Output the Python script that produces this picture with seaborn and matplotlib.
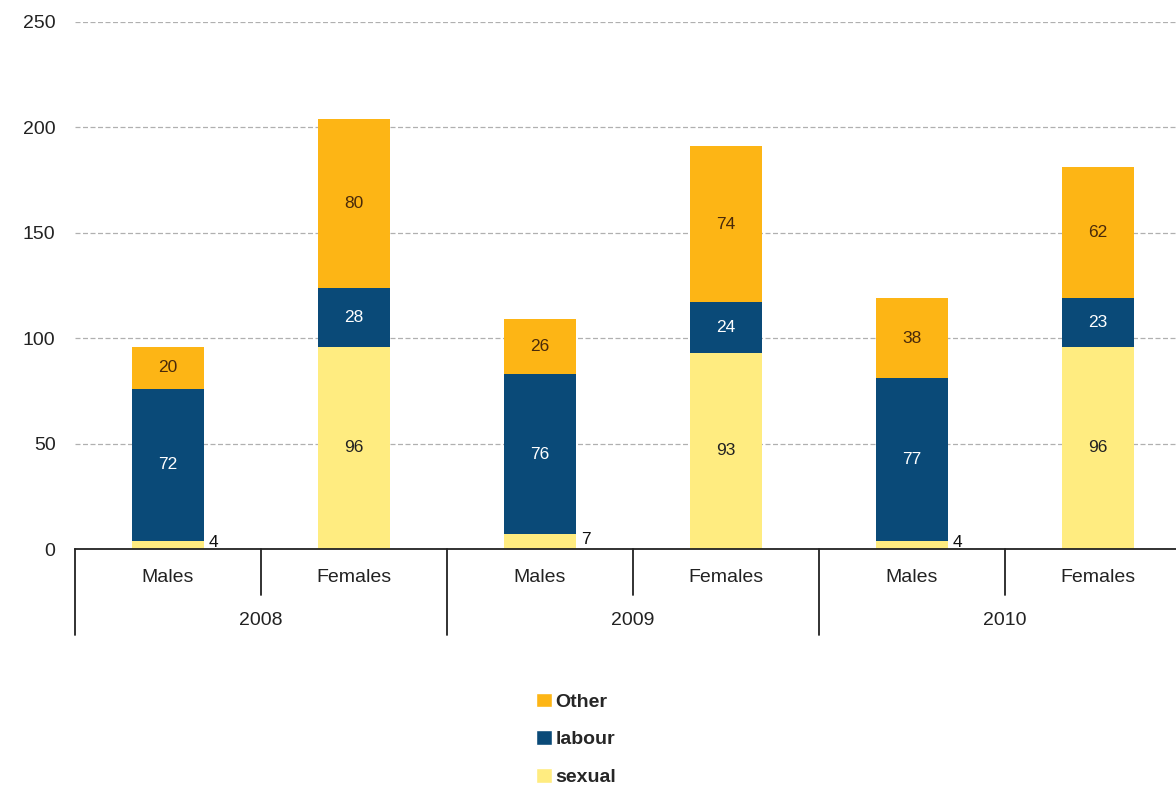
import pandas as pd
import seaborn as sns
import matplotlib.pyplot as plt
from matplotlib.patches import Patch
import matplotlib.transforms as mtransforms

years = ["2008", "2009", "2010"]
sexes = ["Males", "Females"]
groups = ["Males 2008", "Females 2008", "Males 2009", "Females 2009", "Males 2010", "Females 2010"]
sexual = [4, 96, 7, 93, 4, 96]
labour = [72, 28, 76, 24, 77, 23]
other = [20, 80, 26, 74, 38, 62]

df = pd.DataFrame({"group": groups, "sexual": sexual, "labour": labour, "other": other})
df["base_other"] = df["sexual"] + df["labour"]

c_other = "#FDB515"
c_labour = "#0A4A78"
c_sexual = "#FFEC80"

sns.set_style("white")
plt.rcParams["font.family"] = ["Liberation Sans", "DejaVu Sans"]

fig = plt.figure(figsize=(11.76, 7.89), dpi=100)
ax = fig.add_axes([75 / 1176, 240 / 789, 1116 / 1176, 527 / 789])

bar_kw = dict(width=0.39, saturation=1, linewidth=0, ax=ax, zorder=3)
sns.barplot(data=df, x="group", y="sexual", color=c_sexual, **bar_kw)
sns.barplot(data=df, x="group", y="labour", bottom=df["sexual"], color=c_labour, **bar_kw)
sns.barplot(data=df, x="group", y="other", bottom=df["base_other"], color=c_other, **bar_kw)

ax.set_ylim(0, 250)
ax.set_xlim(-0.5, 5.5)
ax.set_yticks([0, 50, 100, 150, 200, 250])
ax.yaxis.grid(True, linestyle=(0, (4, 2)), color="#b0b0b0", linewidth=0.9, zorder=0)
ax.tick_params(axis="y", length=0, pad=14, labelsize=14, labelcolor="#222222")
ax.set_xticks([])
ax.set_xlabel("")
ax.set_ylabel("")
for s in ["top", "right", "left"]:
    ax.spines[s].set_visible(False)
ax.spines["bottom"].set_color("#222222")
ax.spines["bottom"].set_linewidth(1.3)
ax.spines["bottom"].set_zorder(5)

# value labels
for i in range(len(groups)):
    s, l, o = sexual[i], labour[i], other[i]
    if s < 15:
        ax.text(i + 0.22, s / 2 + 1, str(s), ha="left", va="center", fontsize=12.5, color="#111111")
    else:
        ax.text(i, s / 2, str(s), ha="center", va="center", fontsize=12.5, color="#222222")
    ax.text(i, s + l / 2, str(l), ha="center", va="center", fontsize=12.5, color="white")
    ax.text(i, s + l + o / 2, str(o), ha="center", va="center", fontsize=12.5, color="#4a2a0a")

# two-level category axis
trans = mtransforms.blended_transform_factory(ax.transData, ax.transAxes)
for i in range(len(groups)):
    ax.text(i, -0.055, sexes[i % 2], transform=trans, ha="center", va="center", fontsize=14, color="#222222")
for j, yr in enumerate(years):
    ax.text(2 * j + 0.5, -0.135, yr, transform=trans, ha="center", va="center", fontsize=14, color="#222222")
for k in range(7):
    x = k - 0.5
    y_end = -0.163 if k % 2 == 0 else -0.087
    ax.plot([x, x], [0, y_end], transform=trans, color="#222222", linewidth=1.3, clip_on=False)

handles = [Patch(facecolor=c_other, label="Other"),
           Patch(facecolor=c_labour, label="labour"),
           Patch(facecolor=c_sexual, label="sexual")]
leg = fig.legend(handles=handles, loc="center", bbox_to_anchor=(0.49, 0.063), frameon=False,
                 ncol=1, handlelength=0.8, handleheight=0.8, handletextpad=0.2, labelspacing=1.0,
                 prop={"size": 14, "weight": "bold"})

fig.savefig("out.png", dpi=100)
